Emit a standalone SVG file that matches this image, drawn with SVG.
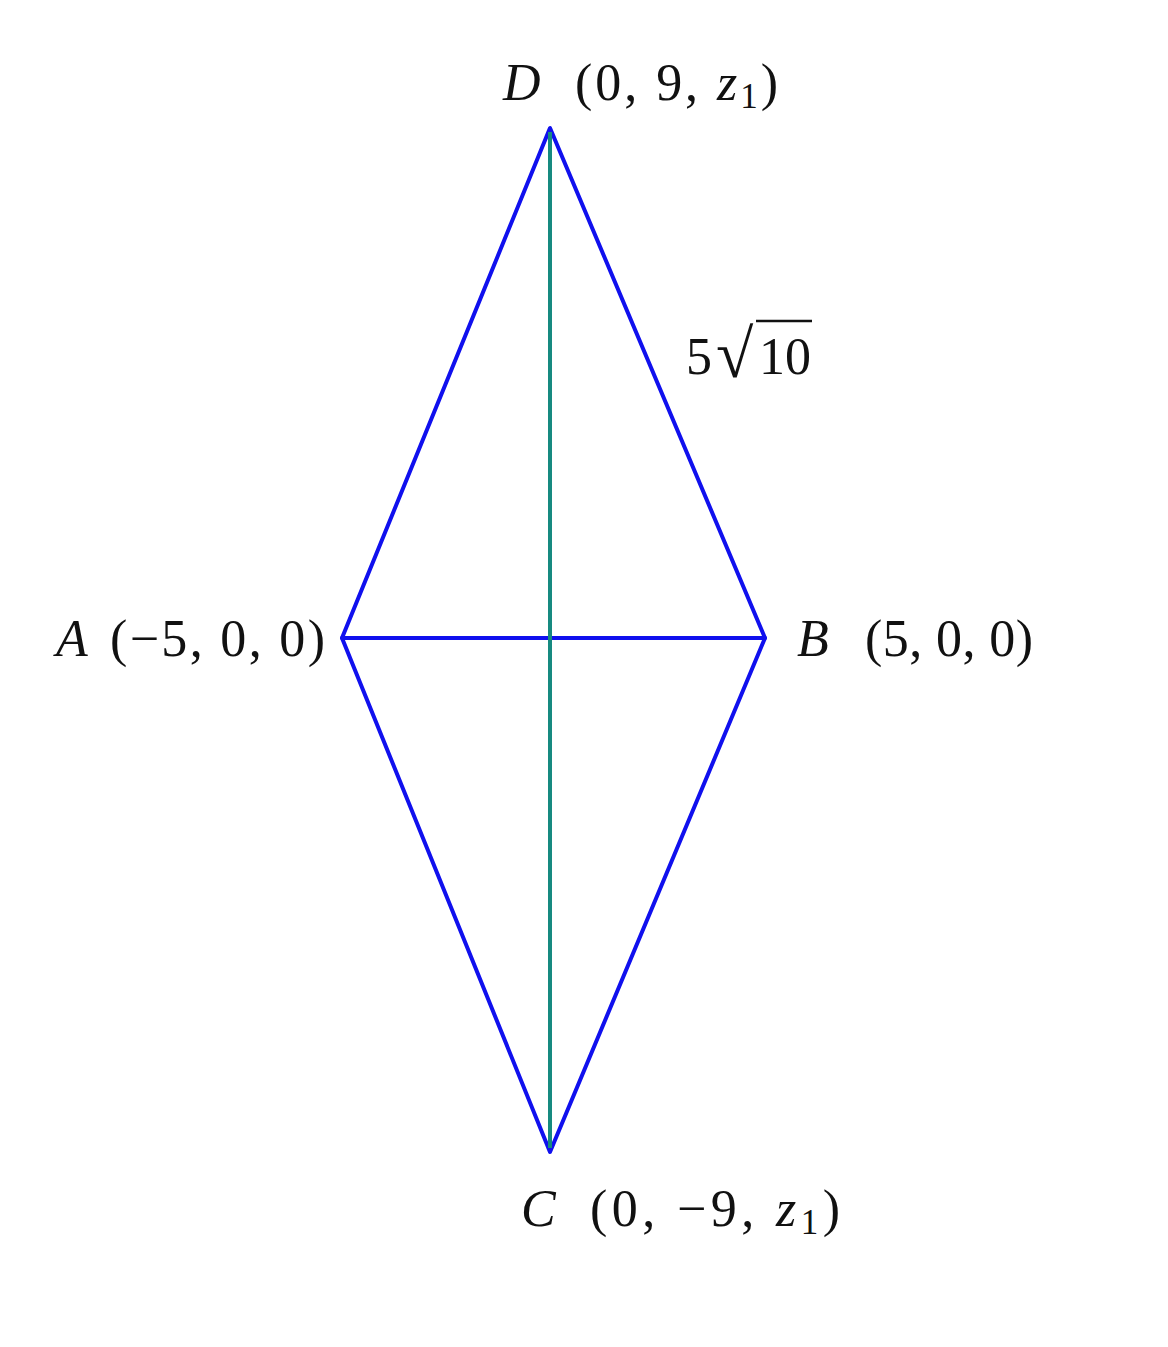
<svg xmlns="http://www.w3.org/2000/svg" width="1168" height="1347" viewBox="0 0 1168 1347">
<style>
.edge{stroke:#1010ee;stroke-width:4;fill:none;stroke-linejoin:round;stroke-linecap:round}
.axis{stroke:#168a80;stroke-width:4;fill:none}
.lbl{font-family:"Liberation Serif","DejaVu Serif",serif;font-size:52px;fill:#111}
.it{font-style:italic}
.sub{font-size:35px}
</style>
<rect width="1168" height="1347" fill="#ffffff"/>
<g id="connectors">
<path class="edge" d="M550,128 L342,638 L550,1152 L765,638 Z"/>
<line class="edge" x1="342" y1="638" x2="765" y2="638"/>
<line class="axis" x1="550" y1="132" x2="550" y2="1148"/>
</g>
<g id="node-D">
<text class="lbl it" x="503" y="100">D</text>
<text class="lbl" x="575" y="100" textLength="203" lengthAdjust="spacing">(0, 9, <tspan class="it">z</tspan><tspan class="sub" dy="8">1</tspan><tspan dy="-8">)</tspan></text>
</g>
<g id="node-A">
<text class="lbl it" x="56" y="656">A</text>
<text class="lbl" x="110" y="656" textLength="215" lengthAdjust="spacing">(−5, 0, 0)</text>
</g>
<g id="node-B">
<text class="lbl it" x="797" y="656">B</text>
<text class="lbl" x="865" y="656" textLength="168" lengthAdjust="spacing">(5, 0, 0)</text>
</g>
<g id="node-C">
<text class="lbl it" x="521" y="1226">C</text>
<text class="lbl" x="590" y="1226" textLength="250" lengthAdjust="spacing">(0, −9, <tspan class="it">z</tspan><tspan class="sub" dy="8">1</tspan><tspan dy="-8">)</tspan></text>
</g>
<g id="edge-label">
<text class="lbl" x="686" y="374">5</text>
<text class="lbl" x="716" y="377" style="font-size:68px">√</text>
<text class="lbl" x="759" y="374">10</text>
<line x1="756" y1="321" x2="812" y2="321" stroke="#111" stroke-width="2.5"/>
</g>
</svg>
